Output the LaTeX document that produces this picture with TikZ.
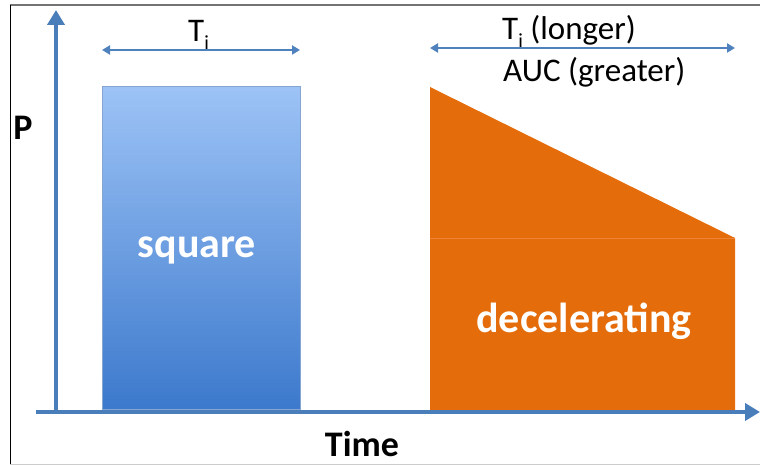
\documentclass[tikz,border=0pt]{standalone}
\usepackage{fontspec}
\setmainfont{Carlito}
\usepackage{tikz}
\usetikzlibrary{positioning, arrows.meta, calc}
\definecolor{axisblue}{HTML}{4A7EBB}
\definecolor{spanblue}{HTML}{4F81BD}
\definecolor{barorange}{HTML}{E46C0A}
\definecolor{seamorange}{HTML}{EE8335}
\definecolor{bartop}{HTML}{9DC3F6}
\definecolor{barbottom}{HTML}{3C79CC}
\newcommand{\Sub}[1]{\raisebox{-8pt}{\fontsize{20}{20}\selectfont #1}}
\tikzset{
    axis/.style={draw=axisblue, line width=4.5pt, -{Triangle[width=17pt, length=15pt]}},
    span/.style={draw=spanblue, line width=2.5pt, {Triangle[width=9pt, length=8pt]}-{Triangle[width=9pt, length=8pt]}},
    bigtext/.style={text=white, font=\bfseries\fontsize{42}{48}\selectfont, inner sep=0pt, anchor=base},
    toptext/.style={font=\fontsize{33}{38}\selectfont, inner sep=0pt, anchor=base west},
    axtext/.style={font=\bfseries\fontsize{36}{40}\selectfont, inner sep=0pt, anchor=base},
}

\begin{document}
\begin{tikzpicture}[x=1pt, y=1pt]
    \useasboundingbox (0,0) rectangle (760,465);

    % frame
    \draw[black!55, line width=1.2pt] (10,460) -- (760,460);
    \draw[black, line width=0.8pt] (10,460) -- (10,0);
    \draw[black!20, line width=0.6pt] (10,1) -- (760,1);

    % axes
    \coordinate (O) at (56,53);
    \coordinate (xstart) at (36,53);
    \coordinate (xtip) at (760,53);
    \coordinate (ytip) at (56,455);
    \draw[axis] (O) -- (ytip);
    \draw[axis] (xstart) -- (xtip);

    % square bar
    \node[rectangle, anchor=south west, minimum width=198pt, minimum height=323pt, inner sep=0pt,
          top color=bartop, bottom color=barbottom, draw=bartop!85!black, line width=0.6pt] (sq) at (102,55) {};
    \node[bigtext] (sqtext) at (197,207) {square};

    % decelerating bar
    \coordinate (dBL) at (430,55);
    \coordinate (dTL) at (430,378);
    \coordinate (dTR) at (735,227);
    \coordinate (dBR) at (735,55);
    \coordinate (dML) at (430,227);
    \fill[barorange] (dBL) -- (dTL) -- (dTR) -- (dBR) -- cycle;
    \draw[seamorange, line width=0.8pt] (dML) -- (dTR);
    \node[bigtext] (dectext) at (584,132) {decelerating};

    % spans
    \coordinate (tiL) at (102,415);
    \coordinate (tiR) at (300,415);
    \draw[span] (tiL) -- (tiR);
    \node[toptext] (ti) at (188,423) {T\Sub{i}};

    \coordinate (tlL) at (430,417);
    \coordinate (tlR) at (735,417);
    \draw[span] (tlL) -- (tlR);
    \node[toptext] (tilong) at (502,425) {T\Sub{i} (longer)};
    \node[toptext] (auc) at ($(tilong.base west)+(1,-42)$) {AUC (greater)};

    % axis labels
    \node[axtext] (p) at (23,325) {P};
    \node[axtext] (time) at (362,8) {Time};
\end{tikzpicture}
\end{document}
